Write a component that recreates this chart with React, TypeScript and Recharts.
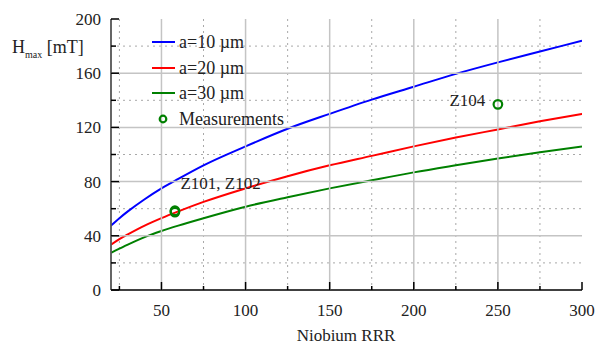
import React from 'react';
import {
  ComposedChart,
  Line,
  Scatter,
  XAxis,
  YAxis,
  CartesianGrid,
  Legend,
  LabelList,
} from 'recharts';

const rrr = [20, 25, 30, 40, 50, 60, 75, 100, 125, 150, 175, 200, 225, 250, 275, 300];
const a10 = [47.5, 53, 58, 67, 75, 82, 92, 106, 119, 130, 140.5, 150, 159.5, 168, 176, 184];
const a20 = [33.5, 37.5, 41, 47.5, 53, 58, 65, 75, 84, 92, 99, 106, 112.5, 118.5, 124.5, 130];
const a30 = [27.5, 30.5, 33.5, 39, 43.5, 47.5, 53, 61.5, 68.5, 75, 81, 86.8, 92, 97, 101.7, 106];

const measRRR = [58, 58, 250];
const measH = [57.5, 58.5, 137];
const measNames = ['', 'Z101, Z102', 'Z104'];

const xDomain = [20, 300];
const yDomain = [0, 200];
const xMajor = [50, 100, 150, 200, 250, 300];
const xMinor = [25, 75, 125, 175, 225, 275];
const xAll = [25, 50, 75, 100, 125, 150, 175, 200, 225, 250, 275, 300];
const yMajor = [0, 40, 80, 120, 160, 200];
const yMinor = [20, 60, 100, 140, 180];
const yAll = [0, 20, 40, 60, 80, 100, 120, 140, 160, 180, 200];

const seriesNames = ['a=10 \u00b5m', 'a=20 \u00b5m', 'a=30 \u00b5m'];
const seriesColors = ['#0000ff', '#ff0000', '#008000'];
const measColor = '#008000';

const data = rrr.map((r, i) => ({ rrr: r, a10: a10[i], a20: a20[i], a30: a30[i] }));
const meas = measRRR.map((r, i) => ({ rrr: r, h: measH[i], name: measNames[i] }));

// major grid lines, drawn as two-point segments through the chart's own scales
const vGrid = xMajor
  .filter((v) => v !== xDomain[1])
  .map((v) => [{ rrr: v, h: yDomain[0] }, { rrr: v, h: yDomain[1] }]);
const hGrid = yMajor
  .filter((v) => v !== yDomain[0] && v !== yDomain[1])
  .map((v) => [{ rrr: xDomain[0], h: v }, { rrr: xDomain[1], h: v }]);

const FONT = "'Liberation Serif', 'Times New Roman', Times, serif";
const TXT = '#222';

const NoShape = () => <g />;

const BottomTick = (props: any) => {
  const { x, y, payload } = props;
  const major = xMajor.includes(payload.value);
  return (
    <g>
      <path d={`M${x},${y}V${y - (major ? 8 : 4)}`} stroke="#000" strokeWidth={1.5} fill="none" />
      {major && (
        <text x={x} y={y + 26} textAnchor="middle" style={{ fontFamily: FONT, fontSize: 17 }} fill={TXT}>
          {payload.value}
        </text>
      )}
    </g>
  );
};

const TopTick = (props: any) => {
  const { x, y } = props;
  return <path d={`M${x},${y}V${y + 5}`} stroke="#000" strokeWidth={1.5} fill="none" />;
};

const LeftTick = (props: any) => {
  const { x, y, payload } = props;
  const major = yMajor.includes(payload.value);
  return (
    <g>
      <path d={`M${x},${y}H${x + (major ? 8 : 5)}`} stroke="#000" strokeWidth={1.5} fill="none" />
      {major && (
        <text x={x - 10} y={y + 6} textAnchor="end" style={{ fontFamily: FONT, fontSize: 17 }} fill={TXT}>
          {payload.value}
        </text>
      )}
    </g>
  );
};

const RightTick = (props: any) => {
  const { x, y } = props;
  return <path d={`M${x},${y}H${x - 5}`} stroke="#000" strokeWidth={1.5} fill="none" />;
};

const MeasShape = (props: any) => {
  const { cx, cy } = props;
  return <circle cx={cx} cy={cy} r={4.3} fill="none" stroke={measColor} strokeWidth={2.2} />;
};

const MeasLabel = (props: any) => {
  const { x, y, value, index } = props;
  if (!value) return null;
  if (index === 2) {
    return (
      <text x={x - 8} y={y + 6} textAnchor="end" style={{ fontFamily: FONT, fontSize: 17 }} fill={TXT}>
        {value}
      </text>
    );
  }
  return (
    <text x={x + 10} y={y - 17} textAnchor="start" style={{ fontFamily: FONT, fontSize: 17 }} fill={TXT}>
      {value}
    </text>
  );
};

const LegendContent = () => (
  <div style={{ fontFamily: FONT, fontSize: 18, color: TXT }}>
    {seriesNames.map((n, i) => (
      <div key={n} style={{ display: 'flex', alignItems: 'center', height: 25.7 }}>
        <svg width={27} height={26} style={{ display: 'block' }}>
          <line x1={2} x2={25} y1={13} y2={13} stroke={seriesColors[i]} strokeWidth={2} />
        </svg>
        <span style={{ marginLeft: 2, lineHeight: '18px' }}>{n}</span>
      </div>
    ))}
    <div style={{ display: 'flex', alignItems: 'center', height: 25.7 }}>
      <svg width={27} height={26} style={{ display: 'block' }}>
        <circle cx={13} cy={13} r={3.3} fill="none" stroke={measColor} strokeWidth={2.2} />
      </svg>
      <span style={{ marginLeft: 2, lineHeight: '18px' }}>Measurements</span>
    </div>
  </div>
);

const YLabel = () => (
  <text x={12} y={53} style={{ fontFamily: FONT, fontSize: 18 }} fill={TXT}>
    <tspan>H</tspan>
    <tspan style={{ fontSize: 10 }} dy={5}>max</tspan>
    <tspan dy={-5}> [mT]</tspan>
  </text>
);

const XLabel = () => (
  <text x={346} y={341} textAnchor="middle" style={{ fontFamily: FONT, fontSize: 17 }} fill={TXT}>
    Niobium RRR
  </text>
);

export default function App() {
  return (
    <div style={{ position: 'absolute', left: 0, top: 0, width: 597, height: 346, background: '#fff', fontFamily: FONT }}>
      <ComposedChart
        width={597}
        height={346}
        data={data}
        margin={{ top: 19, right: 15, bottom: 0, left: 0 }}
      >
        <CartesianGrid
          stroke="#a8a8a8"
          strokeWidth={1}
          strokeDasharray="2 4"
          verticalValues={xMinor}
          horizontalValues={yMinor}
        />
        <XAxis
          type="number"
          dataKey="rrr"
          domain={xDomain}
          ticks={xAll}
          interval={0}
          height={56}
          tickSize={0}
          tickMargin={0}
          tickLine={false}
          axisLine={{ stroke: '#000', strokeWidth: 1.5 }}
          tick={<BottomTick />}
          label={<XLabel />}
          allowDataOverflow
        />
        <XAxis
          xAxisId="t"
          orientation="top"
          type="number"
          dataKey="rrr"
          domain={xDomain}
          ticks={xAll}
          interval={0}
          height={0}
          tickSize={0}
          tickMargin={0}
          tickLine={false}
          axisLine={{ stroke: '#000', strokeWidth: 1.5 }}
          tick={<TopTick />}
          allowDataOverflow
        />
        <YAxis
          type="number"
          domain={yDomain}
          ticks={yAll}
          interval={0}
          width={111}
          tickSize={0}
          tickMargin={0}
          tickLine={false}
          axisLine={{ stroke: '#555', strokeWidth: 1.8 }}
          tick={<LeftTick />}
          label={<YLabel />}
          allowDataOverflow
        />
        <YAxis
          yAxisId="r"
          orientation="right"
          type="number"
          domain={yDomain}
          ticks={yAll}
          interval={0}
          width={0}
          tickSize={0}
          tickMargin={0}
          tickLine={false}
          axisLine={{ stroke: '#000', strokeWidth: 1.5 }}
          tick={<RightTick />}
          allowDataOverflow
        />
        <Legend
          verticalAlign="middle"
          align="center"
          layout="vertical"
          content={<LegendContent />}
          wrapperStyle={{ position: 'absolute', left: 150, top: 29, width: 200 }}
        />
        {vGrid.map((seg, i) => (
          <Scatter
            key={'vg' + i}
            data={seg}
            dataKey="h"
            line={{ stroke: '#c4c4c4', strokeWidth: 1.5 }}
            shape={<NoShape />}
            legendType="none"
            isAnimationActive={false}
          />
        ))}
        {hGrid.map((seg, i) => (
          <Scatter
            key={'hg' + i}
            data={seg}
            dataKey="h"
            line={{ stroke: '#c4c4c4', strokeWidth: 1.5 }}
            shape={<NoShape />}
            legendType="none"
            isAnimationActive={false}
          />
        ))}
        <Line type="monotone" dataKey="a10" stroke={seriesColors[0]} strokeWidth={2} dot={false} isAnimationActive={false} />
        <Line type="monotone" dataKey="a20" stroke={seriesColors[1]} strokeWidth={2} dot={false} isAnimationActive={false} />
        <Line type="monotone" dataKey="a30" stroke={seriesColors[2]} strokeWidth={2} dot={false} isAnimationActive={false} />
        <Scatter data={meas} dataKey="h" shape={<MeasShape />} isAnimationActive={false}>
          <LabelList dataKey="name" content={<MeasLabel />} />
        </Scatter>
      </ComposedChart>
    </div>
  );
}
